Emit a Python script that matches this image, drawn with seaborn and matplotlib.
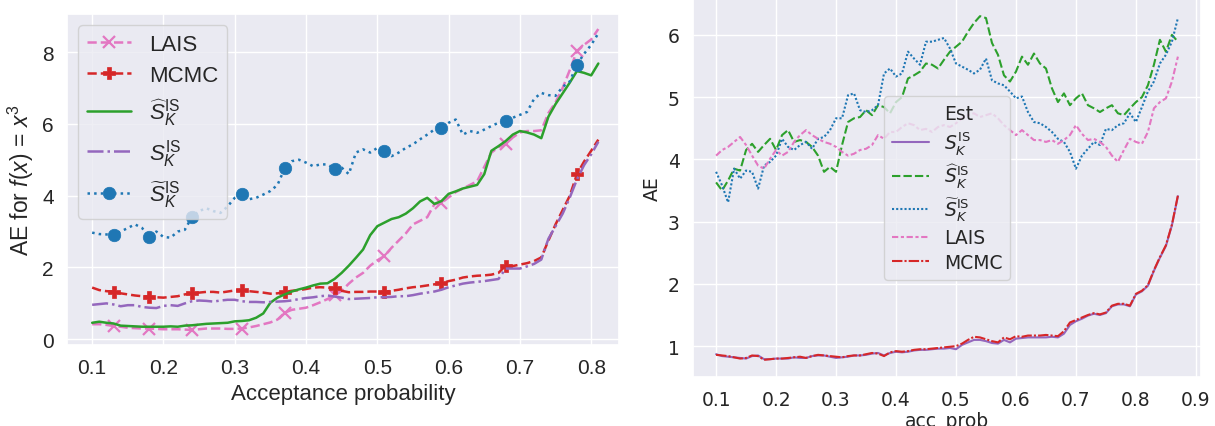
import numpy as np
import pandas as pd
import matplotlib
matplotlib.use("Agg")
import matplotlib.pyplot as plt
from matplotlib.lines import Line2D
from matplotlib.font_manager import FontProperties
import seaborn as sns

# ---------------- data: left panel ----------------
acc_left = np.round(np.arange(0.10, 0.8150, 0.01), 2)  # 0.10 .. 0.81
lais_left = [0.42, 0.42, 0.40, 0.37, 0.35, 0.32, 0.31, 0.30, 0.30, 0.29,
             0.28, 0.28, 0.28, 0.27, 0.26, 0.28, 0.30, 0.30, 0.30, 0.29,
             0.29, 0.30, 0.33, 0.37, 0.42, 0.47, 0.55, 0.74, 0.82, 0.85,
             0.88, 0.95, 1.03, 1.12, 1.22, 1.35, 1.55, 1.72, 1.85, 2.05,
             2.20, 2.32, 2.55, 2.75, 2.95, 3.20, 3.30, 3.40, 3.76, 3.80,
             3.95, 4.10, 4.20, 4.30, 4.40, 4.80, 5.20, 5.35, 5.45, 5.62,
             5.76, 5.80, 5.80, 5.82, 6.30, 6.60, 7.00, 7.50, 8.02, 8.20,
             8.35, 8.64]
mcmc_left = [1.44, 1.37, 1.34, 1.33, 1.28, 1.25, 1.22, 1.20, 1.19, 1.17,
             1.16, 1.18, 1.20, 1.25, 1.28, 1.30, 1.32, 1.32, 1.30, 1.33,
             1.36, 1.37, 1.34, 1.32, 1.30, 1.27, 1.28, 1.32, 1.35, 1.37,
             1.40, 1.44, 1.45, 1.44, 1.42, 1.35, 1.31, 1.32, 1.32, 1.33,
             1.33, 1.32, 1.35, 1.38, 1.42, 1.45, 1.47, 1.50, 1.53, 1.56,
             1.62, 1.66, 1.72, 1.75, 1.77, 1.78, 1.80, 1.85, 2.05, 2.04,
             2.08, 2.12, 2.18, 2.28, 2.75, 3.20, 3.60, 4.00, 4.60, 4.95,
             5.25, 5.56]
shat_left = [0.46, 0.49, 0.46, 0.44, 0.38, 0.37, 0.36, 0.35, 0.35, 0.35,
             0.35, 0.36, 0.35, 0.38, 0.39, 0.41, 0.43, 0.44, 0.45, 0.46,
             0.50, 0.51, 0.53, 0.60, 0.72, 1.02, 1.16, 1.25, 1.33, 1.39,
             1.44, 1.50, 1.55, 1.56, 1.68, 1.85, 2.05, 2.27, 2.50, 2.90,
             3.15, 3.25, 3.35, 3.40, 3.50, 3.65, 3.84, 3.94, 3.77, 3.85,
             4.05, 4.12, 4.20, 4.25, 4.30, 4.60, 5.25, 5.38, 5.52, 5.70,
             5.80, 5.76, 5.70, 5.60, 6.20, 6.55, 6.85, 7.15, 7.47, 7.42,
             7.35, 7.68]
sk_left = [0.96, 0.98, 1.00, 0.97, 0.92, 0.95, 0.95, 0.90, 0.88, 0.87,
           0.93, 0.95, 0.93, 1.00, 1.06, 1.08, 1.07, 1.05, 1.08, 1.10,
           1.10, 1.06, 1.04, 1.04, 1.03, 1.04, 1.05, 1.06, 1.08, 1.12,
           1.15, 1.17, 1.20, 1.22, 1.19, 1.16, 1.12, 1.13, 1.14, 1.15,
           1.17, 1.17, 1.18, 1.20, 1.20, 1.23, 1.27, 1.30, 1.33, 1.38,
           1.45, 1.50, 1.55, 1.58, 1.60, 1.62, 1.65, 1.68, 1.97, 1.97,
           1.97, 2.03, 2.10, 2.22, 2.80, 3.15, 3.50, 3.95, 4.45, 4.85,
           5.15, 5.50]
stil_left = [2.97, 2.93, 2.92, 2.90, 3.00, 3.10, 3.20, 3.10, 2.85, 3.00,
             2.85, 2.83, 3.00, 3.05, 3.41, 3.57, 3.65, 3.57, 3.52, 3.70,
             3.94, 4.05, 3.90, 3.94, 4.03, 4.13, 4.30, 4.76, 4.96, 5.00,
             4.92, 4.82, 4.87, 4.87, 4.75, 4.78, 4.60, 5.20, 5.29, 5.20,
             5.33, 5.24, 5.10, 5.20, 5.33, 5.43, 5.57, 5.70, 5.84, 5.89,
             6.03, 6.12, 5.70, 5.80, 5.75, 5.84, 5.94, 6.03, 6.08, 6.17,
             6.25, 6.33, 6.70, 6.86, 6.80, 6.78, 7.03, 7.18, 7.65, 7.95,
             8.20, 8.52]
marker_idx = [3, 8, 14, 21, 27, 34, 41, 49, 58, 68]

# ---------------- data: right panel ----------------
acc_right = np.round(np.arange(0.10, 0.8750, 0.01), 2)  # 0.10 .. 0.87
sk_right = [0.87, 0.84, 0.83, 0.82, 0.81, 0.80, 0.84, 0.85, 0.79, 0.79,
            0.80, 0.80, 0.80, 0.82, 0.81, 0.81, 0.84, 0.85, 0.85, 0.83,
            0.81, 0.82, 0.83, 0.85, 0.85, 0.86, 0.88, 0.89, 0.85, 0.89,
            0.91, 0.90, 0.91, 0.93, 0.94, 0.94, 0.95, 0.96, 0.96, 0.97,
            0.95, 1.02, 1.06, 1.10, 1.10, 1.08, 1.05, 1.04, 1.10, 1.06,
            1.12, 1.13, 1.14, 1.14, 1.14, 1.14, 1.15, 1.14, 1.20, 1.34,
            1.40, 1.44, 1.49, 1.52, 1.50, 1.53, 1.64, 1.67, 1.67, 1.64,
            1.83, 1.88, 1.97, 2.21, 2.42, 2.61, 2.94, 3.41]
shat_right = [3.63, 3.50, 3.66, 3.85, 3.82, 4.15, 4.25, 4.12, 4.23, 4.33,
              4.15, 4.39, 4.47, 4.28, 4.31, 4.28, 4.20, 4.06, 3.80, 3.88,
              3.80, 4.23, 4.60, 4.66, 4.68, 4.79, 4.71, 4.87, 4.84, 4.74,
              4.92, 5.00, 5.30, 5.35, 5.41, 5.54, 5.52, 5.46, 5.60, 5.73,
              5.81, 5.89, 6.05, 6.19, 6.30, 6.27, 5.87, 5.68, 5.35, 5.25,
              5.41, 5.65, 5.52, 5.70, 5.54, 5.46, 5.14, 4.92, 5.06, 4.87,
              4.98, 5.06, 4.87, 4.82, 4.76, 4.82, 4.87, 4.74, 4.71, 4.82,
              4.92, 5.00, 5.19, 5.52, 5.92, 5.73, 6.00, 5.89]
stil_right = [3.80, 3.58, 3.31, 3.85, 3.69, 3.82, 3.80, 3.53, 3.90, 3.96,
              4.06, 4.33, 4.20, 4.15, 4.23, 4.28, 4.17, 4.33, 4.36, 4.47,
              4.66, 4.66, 5.03, 5.06, 4.79, 4.76, 4.79, 4.87, 5.38, 5.46,
              5.33, 5.38, 5.73, 5.62, 5.52, 5.89, 5.89, 5.92, 5.95, 5.78,
              5.54, 5.49, 5.44, 5.38, 5.44, 5.62, 5.27, 5.22, 5.19, 5.09,
              4.98, 5.01, 4.76, 4.60, 4.58, 4.52, 4.44, 4.33, 4.28, 4.12,
              3.85, 4.06, 4.17, 4.28, 4.23, 4.49, 4.47, 4.55, 4.58, 4.74,
              4.60, 4.84, 5.09, 5.25, 5.54, 5.68, 5.89, 6.27]
lais_right = [4.06, 4.15, 4.20, 4.28, 4.36, 4.23, 4.06, 3.90, 3.85, 4.01,
              4.15, 4.06, 4.12, 4.28, 4.39, 4.47, 4.39, 4.33, 4.28, 4.25,
              4.20, 4.12, 4.06, 4.09, 4.15, 4.17, 4.23, 4.39, 4.33, 4.44,
              4.44, 4.52, 4.58, 4.55, 4.47, 4.49, 4.44, 4.52, 4.55, 4.52,
              4.58, 4.66, 4.71, 4.74, 4.68, 4.71, 4.74, 4.66, 4.55, 4.47,
              4.39, 4.47, 4.39, 4.31, 4.31, 4.28, 4.31, 4.25, 4.31, 4.39,
              4.55, 4.41, 4.31, 4.33, 4.28, 4.20, 4.06, 3.96, 4.15, 4.33,
              4.28, 4.25, 4.44, 4.82, 4.92, 4.98, 5.25, 5.65]
mcmc_right = [0.86, 0.85, 0.84, 0.82, 0.80, 0.81, 0.85, 0.84, 0.78, 0.79,
              0.80, 0.80, 0.81, 0.82, 0.83, 0.81, 0.84, 0.86, 0.85, 0.84,
              0.83, 0.82, 0.84, 0.85, 0.85, 0.87, 0.89, 0.88, 0.84, 0.90,
              0.92, 0.91, 0.92, 0.94, 0.95, 0.95, 0.96, 0.97, 0.98, 0.99,
              1.00, 1.04, 1.10, 1.15, 1.14, 1.11, 1.08, 1.06, 1.14, 1.11,
              1.16, 1.15, 1.17, 1.17, 1.17, 1.18, 1.17, 1.16, 1.24, 1.38,
              1.42, 1.46, 1.50, 1.53, 1.51, 1.54, 1.65, 1.68, 1.68, 1.65,
              1.84, 1.89, 1.98, 2.22, 2.43, 2.62, 2.95, 3.42]

lab_sk = r"$S_K^{\mathrm{IS}}$"
lab_shat = r"$\widehat{S}_K^{\mathrm{IS}}$"
lab_stil = r"$\widetilde{S}_K^{\mathrm{IS}}$"

C_PURPLE, C_GREEN, C_BLUE, C_PINK, C_RED = "#9467bd", "#2ca02c", "#1f77b4", "#e377c2", "#d62728"

sns.set_theme(style="darkgrid")
plt.rcParams["font.family"] = ["DejaVu Sans"]
plt.rcParams["mathtext.fontset"] = "custom"
plt.rcParams["mathtext.rm"] = "Liberation Sans"
plt.rcParams["mathtext.it"] = "Liberation Sans:italic"
plt.rcParams["mathtext.bf"] = "Liberation Sans:bold"
plt.rcParams["mathtext.sf"] = "Liberation Sans"

fig = plt.figure(figsize=(12.15, 4.27), dpi=100)
W, H = 1215, 427
axL = fig.add_axes([67 / W, (H - 346) / H, 552 / W, 331 / H])
axR = fig.add_axes([693 / W, (H - 378) / H, 508 / W, 378 / H])

# ---------------- left panel ----------------
lw = 1.8
specs = [
    (lais_left, "LAIS", C_PINK, "--", "x"),
    (mcmc_left, "MCMC", C_RED, "--", "P"),
    (shat_left, lab_shat, C_GREEN, "-", None),
    (sk_left, lab_sk, C_PURPLE, "-.", None),
    (stil_left, lab_stil, C_BLUE, ":", "o"),
]
for vals, lab, col, ls, mk in specs:
    kw = dict(x=acc_left, y=vals, ax=axL, color=col, linestyle=ls, linewidth=lw, label=lab)
    if mk is not None:
        kw.update(marker=mk, markevery=marker_idx, markersize=9 if mk != "x" else 8,
                  markeredgecolor=col, markerfacecolor=col,
                  markeredgewidth=1.6 if mk == "x" else 0.5)
    sns.lineplot(**kw)

lfont = "Liberation Sans"
axL.set_xlim(0.0647, 0.839)
axL.set_xticks([0.1, 0.2, 0.3, 0.4, 0.5, 0.6, 0.7, 0.8])
axL.set_yticks([0, 2, 4, 6, 8])
for t in axL.get_xticklabels() + axL.get_yticklabels():
    t.set_fontfamily(lfont)
    t.set_fontsize(15)
axL.set_xlabel("Acceptance probability", fontfamily=lfont, fontsize=16)
axL.set_ylabel(r"AE for $f(x)$ = $x^3$", fontfamily=lfont, fontsize=16.5)
legL = axL.legend(loc="upper left", prop=FontProperties(family=lfont, size=16),
                  labelspacing=0.45)
legL.get_frame().set_edgecolor("#cccccc")

# ---------------- right panel ----------------
order = [lab_sk, lab_shat, lab_stil, "LAIS", "MCMC"]
vals_r = [sk_right, shat_right, stil_right, lais_right, mcmc_right]
df = pd.concat([pd.DataFrame({"acc_prob": acc_right, "AE": v, "Est": n})
                for n, v in zip(order, vals_r)], ignore_index=True)
pal = dict(zip(order, [C_PURPLE, C_GREEN, C_BLUE, C_PINK, C_RED]))
sns.lineplot(data=df, x="acc_prob", y="AE", hue="Est", style="Est",
             hue_order=order, style_order=order, palette=pal, ax=axR, linewidth=1.5)
old = axR.get_legend()
handles = list(old.legend_handles)
labels = [t.get_text() for t in old.get_texts()]
old.remove()
blank = Line2D([], [], linestyle="none", marker=None)
legR = axR.legend([blank] + handles, ["Est"] + labels, loc="center",
                  prop=FontProperties(family="DejaVu Sans", size=13.5),
                  labelspacing=0.3)
for t in legR.get_texts():
    t.set_math_fontfamily("dejavusans")
axR.set_yticks([1, 2, 3, 4, 5, 6])
axR.set_xticks([0.1, 0.2, 0.3, 0.4, 0.5, 0.6, 0.7, 0.8, 0.9])
for t in axR.get_xticklabels() + axR.get_yticklabels():
    t.set_fontsize(13.5)
axR.set_xlabel("acc_prob", fontsize=13.5, labelpad=1)
axR.set_ylabel("AE", fontsize=13.5)

fig.savefig("out.png", dpi=100)
